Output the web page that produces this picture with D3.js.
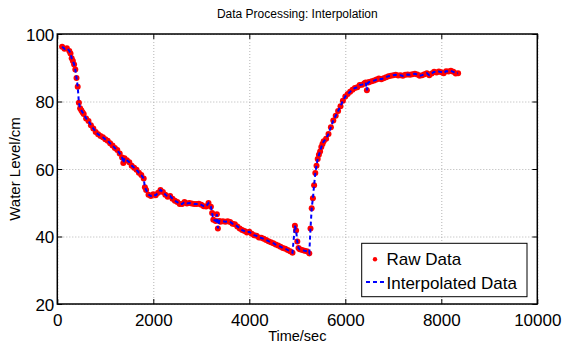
<!DOCTYPE html>
<html>
<head>
<meta charset="utf-8">
<script src="https://cdn.jsdelivr.net/npm/d3@7"></script>
<style>
  body { margin: 0; background: #fff; }
  svg { display: block; font-family: "Liberation Sans", Arial, Helvetica, sans-serif; }
</style>
</head>
<body>
<svg id="chart" width="562" height="349"></svg>
<script>
// data
const timeSec = [
  100, 150, 200, 250, 275, 300, 325, 350, 375, 400, 425, 450, 475, 500, 525, 550, 600, 650, 700, 750,
  800, 850, 900, 950, 1000, 1050, 1100, 1150, 1200, 1250, 1300, 1350, 1375, 1400, 1450, 1500, 1550, 1600, 1650, 1700,
  1750, 1800, 1825, 1850, 1900, 1950, 2000, 2050, 2100, 2150, 2200, 2250, 2300, 2350, 2400, 2450, 2500, 2550, 2600, 2650,
  2700, 2750, 2800, 2850, 2900, 2950, 3000, 3050, 3100, 3150, 3200, 3225, 3250, 3300, 3325, 3345, 3375, 3400, 3450, 3500,
  3550, 3600, 3650, 3700, 3750, 3800, 3850, 3900, 3950, 4000, 4050, 4100, 4150, 4200, 4250, 4300, 4350, 4400, 4450, 4500,
  4550, 4600, 4650, 4700, 4750, 4800, 4850, 4900, 4950, 4975, 5000, 5025, 5050, 5100, 5150, 5200, 5250, 5275, 5300, 5325,
  5350, 5375, 5400, 5425, 5450, 5475, 5500, 5525, 5550, 5600, 5650, 5700, 5750, 5800, 5850, 5900, 5950, 6000, 6050, 6100,
  6150, 6200, 6250, 6300, 6350, 6400, 6425, 6450, 6475, 6500, 6550, 6600, 6650, 6700, 6750, 6800, 6850, 6900, 6950, 7000,
  7050, 7100, 7150, 7200, 7250, 7300, 7350, 7400, 7450, 7500, 7550, 7600, 7650, 7700, 7750, 7800, 7850, 7900, 7950, 8000,
  8050, 8100, 8150, 8200, 8250, 8300, 8350
];
const waterLevel = [
  96.2, 95.6, 95.8, 95.0, 94.2, 92.8, 92.0, 91.0, 89.5, 87.0, 84.4, 79.6, 78.0, 77.4, 76.8, 76.3, 75.0, 74.2, 73.0, 72.0,
  71.0, 70.3, 69.8, 69.4, 68.8, 68.4, 67.6, 67.0, 66.2, 65.6, 64.6, 63.4, 61.8, 63.2, 62.6, 62.0, 61.0, 60.4, 59.8, 58.9,
  58.2, 57.2, 54.6, 53.8, 52.4, 52.0, 52.5, 52.2, 53.0, 53.8, 53.2, 52.4, 51.8, 52.0, 51.2, 50.6, 50.2, 49.6, 49.6, 50.2,
  49.8, 49.9, 49.8, 49.6, 49.6, 49.7, 49.4, 49.0, 48.9, 49.9, 48.8, 47.0, 45.0, 44.6, 46.6, 42.4, 44.6, 44.4, 44.5, 44.4,
  44.5, 44.3, 43.8, 43.6, 43.0, 42.4, 41.9, 41.6, 41.2, 41.4, 40.8, 40.4, 40.2, 39.7, 39.6, 39.3, 39.0, 38.6, 38.3, 38.0,
  37.6, 37.3, 37.0, 36.6, 36.4, 36.0, 35.6, 35.2, 43.2, 41.8, 38.5, 36.6, 36.2, 36.0, 35.8, 35.6, 35.0, 42.4, 48.4, 51.3,
  55.2, 58.8, 61.0, 63.0, 64.2, 65.2, 66.5, 67.4, 68.2, 69.0, 70.4, 72.4, 74.4, 75.8, 77.2, 78.6, 80.2, 81.5, 82.2, 82.9,
  83.5, 84.0, 84.2, 84.9, 85.0, 85.4, 85.6, 83.3, 85.6, 85.8, 86.0, 86.2, 86.5, 86.8, 86.6, 86.9, 87.2, 87.5, 87.6, 87.8,
  87.9, 87.7, 87.8, 87.6, 87.9, 88.0, 87.9, 88.1, 88.2, 88.0, 87.6, 87.8, 88.1, 88.4, 87.8, 88.3, 88.8, 88.6, 88.9, 88.7,
  88.4, 89.0, 88.9, 89.1, 88.8, 88.3, 88.4
];
const xTicks = [0, 2000, 4000, 6000, 8000, 10000];
const yTicks = [20, 40, 60, 80, 100];
const legendLabels = ["Raw Data", "Interpolated Data"];

const W = 562, H = 349;
const margin = {top: 34, right: 24.7, bottom: 45, left: 57.3};

const svg = d3.select("#chart");
const data = timeSec.map((t, i) => ({t: t, v: waterLevel[i]}));

const x = d3.scaleLinear().domain([0, 10000]).range([margin.left, W - margin.right]);
const y = d3.scaleLinear().domain([20, 100]).range([H - margin.bottom, margin.top]);

const x0 = margin.left, x1 = W - margin.right, y0 = H - margin.bottom, y1 = margin.top;

// grid
svg.append("g")
    .attr("transform", `translate(0,${y0})`)
    .call(d3.axisBottom(x).tickValues(xTicks).tickSize(-(y0 - y1)).tickFormat(""))
    .call(g => g.select(".domain").remove())
    .call(g => g.selectAll(".tick line")
        .attr("stroke", "#b4b4b4").attr("stroke-dasharray", "1,2"));

svg.append("g")
    .attr("transform", `translate(${x0},0)`)
    .call(d3.axisLeft(y).tickValues(yTicks).tickSize(-(x1 - x0)).tickFormat(""))
    .call(g => g.select(".domain").remove())
    .call(g => g.selectAll(".tick line")
        .attr("stroke", "#b4b4b4").attr("stroke-dasharray", "1,2"));

// raw data dots
svg.append("g")
    .selectAll("circle")
    .data(data)
    .join("circle")
    .attr("cx", d => x(d.t))
    .attr("cy", d => y(d.v))
    .attr("r", 3)
    .attr("fill", "#ff0000");

// interpolated line
const line = d3.line().x(d => x(d.t)).y(d => y(d.v));
svg.append("path")
    .datum(data)
    .attr("d", line)
    .attr("fill", "none")
    .attr("stroke", "#0000ff")
    .attr("stroke-width", 2)
    .attr("stroke-dasharray", "4,3");

// axes with inward ticks
const bottomAxis = svg.append("g")
    .attr("transform", `translate(0,${y0})`)
    .call(d3.axisBottom(x).tickValues(xTicks).tickSize(-5).tickFormat(d3.format("d")))
    .call(g => g.select(".domain").remove());
bottomAxis.selectAll(".tick text").attr("y", 22).attr("dy", 0);

svg.append("g")
    .attr("transform", `translate(0,${y1})`)
    .call(d3.axisTop(x).tickValues(xTicks).tickSize(-5).tickFormat(""))
    .call(g => g.select(".domain").remove());

const leftAxis = svg.append("g")
    .attr("transform", `translate(${x0},0)`)
    .call(d3.axisLeft(y).tickValues(yTicks).tickSize(-5))
    .call(g => g.select(".domain").remove());
leftAxis.selectAll(".tick text").attr("x", -3).attr("dy", "0.36em");

svg.append("g")
    .attr("transform", `translate(${x1},0)`)
    .call(d3.axisRight(y).tickValues(yTicks).tickSize(-5).tickFormat(""))
    .call(g => g.select(".domain").remove());

svg.selectAll(".tick line").filter(function() { return !this.getAttribute("stroke-dasharray"); })
    .attr("stroke", "#000").attr("stroke-width", 1);
svg.selectAll(".tick text").attr("font-size", 17).attr("fill", "#000")
    .attr("font-family", "'Liberation Sans', Arial, sans-serif");

// box
svg.append("rect")
    .attr("x", x0).attr("y", y1)
    .attr("width", x1 - x0).attr("height", y0 - y1)
    .attr("fill", "none").attr("stroke", "#000").attr("stroke-width", 1.5);

// title and axis labels
svg.append("text")
    .attr("x", (x0 + x1) / 2).attr("y", 18)
    .attr("text-anchor", "middle").attr("font-size", 12)
    .text("Data Processing: Interpolation");

svg.append("text")
    .attr("x", (x0 + x1) / 2).attr("y", 341)
    .attr("text-anchor", "middle").attr("font-size", 14.5)
    .text("Time/sec");

svg.append("text")
    .attr("transform", `translate(20,${(y0 + y1) / 2}) rotate(-90)`)
    .attr("text-anchor", "middle").attr("font-size", 15)
    .text("Water Level/cm");

// legend
const legend = svg.append("g");
legend.append("rect")
    .attr("x", 361.7).attr("y", 243.3).attr("width", 165.3).attr("height", 53.4)
    .attr("fill", "#fff").attr("stroke", "#000").attr("stroke-width", 1);
legend.append("circle")
    .attr("cx", 375).attr("cy", 259.3).attr("r", 2.2).attr("fill", "#ff0000");
legend.append("line")
    .attr("x1", 366).attr("x2", 385).attr("y1", 282).attr("y2", 282)
    .attr("stroke", "#0000ff").attr("stroke-width", 2).attr("stroke-dasharray", "4,3");
legend.selectAll("text.lbl")
    .data(legendLabels)
    .join("text")
    .attr("class", "lbl")
    .attr("x", 386.5)
    .attr("y", (d, i) => 264.5 + i * 24.5)
    .attr("font-size", 17)
    .text(d => d);
</script>
</body>
</html>
